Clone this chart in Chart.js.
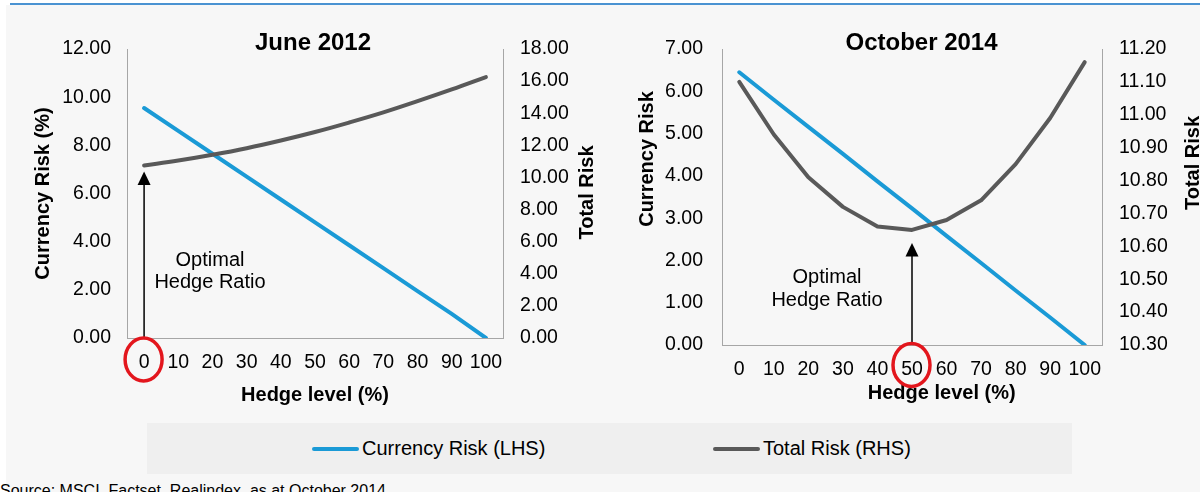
<!DOCTYPE html>
<html>
<head>
<meta charset="utf-8">
<script src="https://cdn.jsdelivr.net/npm/chart.js@4.4.0/dist/chart.umd.min.js"></script>
<style>
html,body{margin:0;padding:0;}
body{width:1200px;height:492px;background:#ffffff;position:relative;overflow:hidden;font-family:"Liberation Sans",Arial,sans-serif;}
#panel{position:absolute;left:6px;top:5px;width:1194px;height:487px;background:#f7f7f7;}
#rule{position:absolute;left:10px;top:3px;width:1190px;height:2px;background:#4a93d2;}
.chartbox{position:absolute;top:0;width:600px;height:420px;}
#legend{position:absolute;left:147px;top:423px;width:925px;height:51px;background:#efefef;}
.item{position:absolute;top:0;height:51px;display:flex;align-items:center;font-size:20px;color:#000;white-space:nowrap;}
.swatch{display:inline-block;width:47px;height:4px;border-radius:2px;margin-right:3px;}
#source{position:absolute;left:0;top:483px;font-size:16px;line-height:1;color:#000;white-space:nowrap;}
</style>
</head>
<body>
<div id="panel"></div>
<div id="rule"></div>
<div class="chartbox" style="left:0"><canvas id="c1"></canvas></div>
<div class="chartbox" style="left:600px"><canvas id="c2"></canvas></div>
<div id="legend">
  <div class="item" style="left:165px"><span class="swatch" style="background:#1a9ad6"></span>Currency Risk (LHS)</div>
  <div class="item" style="left:566px"><span class="swatch" style="background:#595959"></span>Total Risk (RHS)</div>
</div>
<div id="source">Source: MSCI, Factset, Realindex, as at October 2014</div>
<script>
// ---- data ----
const hedgeLevels = ['0','10','20','30','40','50','60','70','80','90','100'];
const currencyRisk2012 = [9.55, 8.6, 7.65, 6.7, 5.75, 4.8, 3.85, 2.9, 1.95, 1.0, 0];
const totalRisk2012    = [10.75, 11.05, 11.41, 11.82, 12.3, 12.83, 13.42, 14.05, 14.75, 15.48, 16.25];
const currencyRisk2014 = [6.45, 5.8, 5.16, 4.52, 3.87, 3.23, 2.58, 1.94, 1.29, 0.65, 0];
const totalRisk2014    = [11.10, 10.94, 10.81, 10.72, 10.66, 10.65, 10.68, 10.74, 10.85, 10.99, 11.16];
const seriesNames = ['Currency Risk (LHS)', 'Total Risk (RHS)'];
const noteLines = ['Optimal', 'Hedge Ratio'];

const FONT = '"Liberation Sans", Arial, sans-serif';
const BLUE = '#1a9ad6';
const GREY = '#595959';
const AXIS = '#a6a6a6';

const annotate = {
  id: 'annotate',
  afterDraw(chart, args, o) {
    const {ctx, chartArea: a, scales} = chart;
    const x = scales.x.getPixelForValue(o.optimalIndex);
    const yLine = scales.y1.getPixelForValue(chart.data.datasets[1].data[o.optimalIndex]);
    ctx.save();
    ctx.fillStyle = '#000';
    ctx.textAlign = 'center';
    ctx.textBaseline = 'middle';
    ctx.font = 'bold 24px ' + FONT;
    ctx.fillText(o.title, o.titleX, o.titleY);
    ctx.font = 'bold 20px ' + FONT;
    ctx.fillText(o.xTitle, o.xTitleX, o.xTitleY);
    [[o.yTitle, o.yTitleX, o.yTitleY], [o.y1Title, o.y1TitleX, o.y1TitleY]].forEach(([t, tx, ty]) => {
      ctx.save();
      ctx.translate(tx, ty);
      ctx.rotate(-Math.PI / 2);
      ctx.fillText(t, 0, 0);
      ctx.restore();
    });
    ctx.font = '20px ' + FONT;
    ctx.textBaseline = 'alphabetic';
    noteLines.forEach((t, i) => ctx.fillText(t, o.noteX, o.noteY + i * o.noteGap));
    // arrow
    const tip = yLine + o.arrowGap;
    ctx.strokeStyle = '#000';
    ctx.lineWidth = 1.5;
    ctx.beginPath();
    ctx.moveTo(x, a.bottom);
    ctx.lineTo(x, tip + 10);
    ctx.stroke();
    ctx.beginPath();
    ctx.moveTo(x, tip);
    ctx.lineTo(x - 6.5, tip + 13.5);
    ctx.lineTo(x + 6.5, tip + 13.5);
    ctx.closePath();
    ctx.fill();
    // red circle
    ctx.strokeStyle = '#e3161d';
    ctx.lineWidth = 3.5;
    ctx.beginPath();
    ctx.ellipse(x - 0.5, a.bottom + o.circleDy, 18.5, 21.5, 0, 0, Math.PI * 2);
    ctx.stroke();
    ctx.restore();
  }
};

function makeChart(id, cur, tot, yOpt, y1Opt, sizes, tension, ann) {
  const tickFont = {family: FONT, size: 19.5};
  return new Chart(document.getElementById(id), {
    type: 'line',
    data: {
      labels: hedgeLevels,
      datasets: [
        {label: seriesNames[0], data: cur, yAxisID: 'y', borderColor: BLUE, backgroundColor: BLUE,
         borderWidth: 4, pointRadius: 0, tension: 0, borderCapStyle: 'round', order: 1},
        {label: seriesNames[1], data: tot, yAxisID: 'y1', borderColor: GREY, backgroundColor: GREY,
         borderWidth: 4, pointRadius: 0, tension: tension, borderCapStyle: 'round', borderJoinStyle: 'round', order: 0}
      ]
    },
    options: {
      responsive: true,
      maintainAspectRatio: false,
      animation: false,
      layout: {padding: {top: sizes.top, left: 0, right: 0, bottom: 0}},
      plugins: {legend: {display: false}, tooltip: {enabled: false}, title: {display: false}, annotate: ann},
      scales: {
        x: {
          type: 'category', offset: true,
          grid: {display: false, drawTicks: false},
          border: {display: true, color: AXIS, width: 1},
          ticks: {font: tickFont, color: '#000', padding: 13, maxRotation: 0, autoSkip: false},
          afterFit: s => { s.height = sizes.xH; }
        },
        y: {
          position: 'left', min: yOpt.min, max: yOpt.max,
          grid: {display: false, drawTicks: false},
          border: {display: true, color: AXIS, width: 1},
          ticks: {font: tickFont, color: '#000', padding: sizes.yPad, stepSize: yOpt.step, callback: v => Number(v).toFixed(2)},
          afterFit: s => { s.width = sizes.yW; }
        },
        y1: {
          position: 'right', min: y1Opt.min, max: y1Opt.max,
          grid: {display: false, drawTicks: false},
          border: {display: true, color: AXIS, width: 1},
          ticks: {font: tickFont, color: '#000', padding: 17, stepSize: y1Opt.step, callback: v => Number(v).toFixed(2)},
          afterFit: s => { s.width = sizes.y1W; }
        }
      }
    },
    plugins: [annotate]
  });
}

makeChart('c1', currencyRisk2012, totalRisk2012,
  {min: 0, max: 12, step: 2}, {min: 0, max: 18, step: 2},
  {top: 49, xH: 82, yW: 127, y1W: 97, yPad: 16}, 0.4,
  {title: 'June 2012', titleX: 313, titleY: 43,
   xTitle: 'Hedge level (%)', xTitleX: 315, xTitleY: 395,
   yTitle: 'Currency Risk (%)', yTitleX: 43, yTitleY: 193.5,
   y1Title: 'Total Risk', y1TitleX: 587, y1TitleY: 192.5,
   noteX: 210, noteY: 266, noteGap: 22,
   optimalIndex: 0, arrowGap: 6, circleDy: 21.5});

makeChart('c2', currencyRisk2014, totalRisk2014,
  {min: 0, max: 7, step: 1}, {min: 10.3, max: 11.2, step: 0.1},
  {top: 49, xH: 75, yW: 122, y1W: 98, yPad: 19}, 0,
  {title: 'October 2014', titleX: 321.5, titleY: 43,
   xTitle: 'Hedge level (%)', xTitleX: 341.7, xTitleY: 393.5,
   yTitle: 'Currency Risk', yTitleX: 47, yTitleY: 159,
   y1Title: 'Total Risk', y1TitleX: 593, y1TitleY: 163,
   noteX: 227, noteY: 283, noteGap: 23,
   optimalIndex: 5, arrowGap: 13, circleDy: 20});
</script>
</body>
</html>
